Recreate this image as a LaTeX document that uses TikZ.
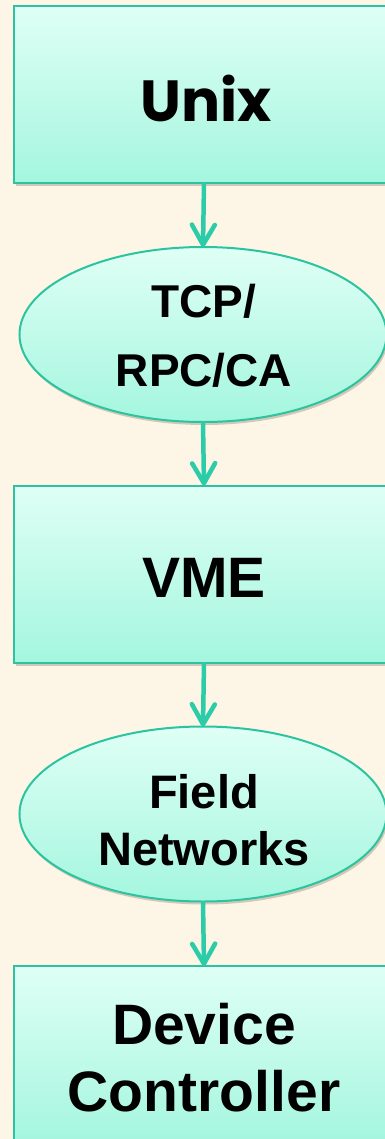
\documentclass[tikz,border=0pt]{standalone}
\usepackage{fontspec}
\setmainfont{Liberation Sans}
\newfontfamily\geofont{Poppins}
\usetikzlibrary{arrows.meta,shapes.geometric,shadows}

\definecolor{paper}{HTML}{FDF6E6}
\definecolor{mintTop}{HTML}{DFFFF5}
\definecolor{mintBottom}{HTML}{A4F6DE}
\definecolor{edge}{HTML}{2CC3A0}
\definecolor{flow}{HTML}{2DCCA8}

\tikzset{
  stage/.style={
    draw=edge, line width=2pt, inner sep=0pt, outer sep=0pt,
    top color=mintTop, bottom color=mintBottom,
    drop shadow={shadow xshift=1.5pt, shadow yshift=-3pt,
                 opacity=.22, fill=black!70!brown}
  },
  stagebox/.style={stage, rectangle, minimum width=380pt, minimum height=177pt},
  stagelink/.style={stage, ellipse, minimum width=367pt, minimum height=175pt},
  label/.style={text=black, align=center, inner sep=0pt},
  conn/.style={draw=flow, line width=4.5pt,
    -{Straight Barb[length=20pt, width=23pt, line cap=round, line join=round]}}
}

\begin{document}
\begin{tikzpicture}[x=1pt, y=-1pt]
  \useasboundingbox (0,0) rectangle (385,1139);
  \fill[paper] (0,0) rectangle (385,1139);
  \clip (0,0) rectangle (385,1139);

  % layers of the control system, top to bottom
  \node[stagebox]  (unix)   at (204,94.5) {};
  \node[stagelink] (tcp)    at (203,334.5) {};
  \node[stagebox]  (vme)    at (204,574) {};
  \node[stagelink] (field)  at (203,814) {};
  \node[stagebox]  (device) at (204,1054.5) {};

  % texts
  \node[label, font=\geofont\bfseries\fontsize{58}{66}\selectfont]
    (unixtxt) at (206,98.5) {Unix};
  \node[label, font=\bfseries\fontsize{46}{69}\selectfont]
    (tcptxt) at (204,336) {TCP/\\RPC/CA};
  \node[label, font=\bfseries\fontsize{57}{66}\selectfont]
    (vmetxt) at (204,577.5) {VME};
  \node[label, font=\bfseries\fontsize{47}{57}\selectfont]
    (fieldtxt) at (204,820) {Field\\Networks};
  \node[label, font=\bfseries\fontsize{57}{67}\selectfont]
    (devicetxt) at (204,1057.5) {Device\\Controller};

  % connectors
  \draw[conn] (unix.south)  -- (tcp.north);
  \draw[conn] (tcp.south)   -- (vme.north);
  \draw[conn] (vme.south)   -- (field.north);
  \draw[conn] (field.south) -- (device.north);
\end{tikzpicture}
\end{document}
